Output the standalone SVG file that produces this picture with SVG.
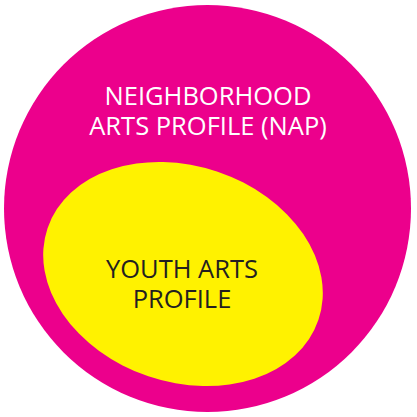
<svg xmlns="http://www.w3.org/2000/svg" width="417" height="417" viewBox="0 0 417 417">
<style>
.t{font-family:"Open Sans","Noto Sans",sans-serif;font-size:25.5px;text-anchor:middle}
</style>
<rect width="417" height="417" fill="#fff"/>
<g id="nap">
<circle cx="207.5" cy="208.5" r="203.5" fill="#EC008C"/>
<text class="t" x="208" y="105" fill="#fff">NEIGHBORHOOD</text>
<text class="t" x="208" y="135" fill="#fff">ARTS PROFILE (NAP)</text>
</g>
<g id="youth">
<ellipse cx="183" cy="274" rx="143" ry="108" transform="rotate(18.7 183 274)" fill="#FFF200"/>
<text class="t" x="182" y="278" fill="#231F20">YOUTH ARTS</text>
<text class="t" x="182" y="308" fill="#231F20">PROFILE</text>
</g>
<g id="connectors"/>
</svg>
